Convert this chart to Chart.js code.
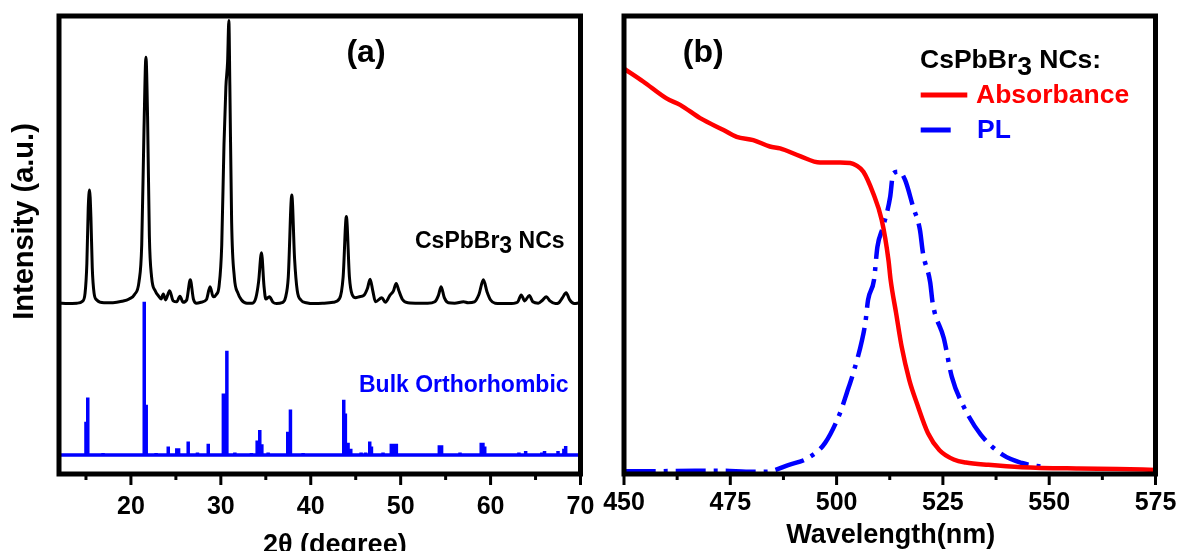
<!DOCTYPE html>
<html>
<head>
<meta charset="utf-8">
<title>CsPbBr3 NCs: XRD and optical spectra</title>
<script src="https://cdn.jsdelivr.net/npm/chart.js@4.4.1/dist/chart.umd.min.js"></script>
<style>
  html, body { margin: 0; padding: 0; background: #fff; overflow: hidden; }
  #wrap { position: relative; width: 1179px; height: 551px; overflow: hidden; background: #fff; }
  canvas { position: absolute; top: 0; }
  #xrd { left: 0; }
  #optical { left: 600px; }
</style>
</head>
<body>
<div id="wrap">
  <canvas id="xrd" width="600" height="570"></canvas>
  <canvas id="optical" width="579" height="570"></canvas>
</div>
<script>
// ---- XRD of the nanocrystals (2theta in degrees, normalised intensity) ----
const ncAngles = [
  12.0, 13.0, 14.0, 14.6, 14.9, 15.1, 15.25, 15.4, 15.55, 15.7, 15.9, 16.2, 17.0, 18.0, 19.0, 19.8,
  20.4, 20.9, 21.2, 21.45, 21.67, 21.85, 22.05, 22.3, 22.7, 23.1, 23.35, 23.6, 23.85, 24.3, 24.7,
  25.1, 25.45, 25.8, 26.2, 26.6, 26.95, 27.3, 27.8, 28.4, 28.8, 29.15, 29.5, 29.8, 30.1, 30.35,
  30.56, 30.75, 30.89, 31.0, 31.2, 31.5, 31.9, 32.3, 32.9, 33.5, 33.9, 34.2, 34.52, 34.8, 35.0,
  35.4, 35.8, 36.2, 36.8, 37.2, 37.5, 37.89, 38.2, 38.5, 38.9, 39.5, 40.5, 41.5, 42.5, 43.2, 43.6,
  43.96, 44.3, 44.6, 45.0, 45.4, 45.9, 46.3, 46.6, 46.9, 47.2, 47.9, 48.3, 48.8, 49.2, 49.5, 49.8,
  50.2, 50.8, 52.0, 53.0, 53.8, 54.2, 54.5, 54.85, 55.3, 56.0, 57.0, 57.5, 58.2, 58.7, 59.2, 59.6,
  60.0, 60.5, 62.0, 63.0, 63.4, 63.8, 64.3, 64.7, 65.3, 65.8, 66.2, 66.6, 67.2, 67.6, 68.0, 68.4,
  68.8, 69.3, 70.0
];
const ncIntensity = [
  0.373, 0.372, 0.373, 0.377, 0.395, 0.46, 0.58, 0.620, 0.56, 0.45, 0.395, 0.380, 0.374, 0.374, 0.377, 0.382,
  0.392, 0.42, 0.50, 0.75, 0.910, 0.78, 0.52, 0.43, 0.40, 0.388, 0.382, 0.393, 0.380, 0.400, 0.378,
  0.376, 0.388, 0.375, 0.380, 0.424, 0.382, 0.373, 0.375, 0.381, 0.409, 0.387, 0.392, 0.41, 0.50, 0.72,
  0.845, 0.90, 0.990, 0.85, 0.55, 0.43, 0.395, 0.380, 0.373, 0.373, 0.385, 0.42, 0.483, 0.41, 0.382,
  0.387, 0.375, 0.372, 0.374, 0.386, 0.43, 0.609, 0.47, 0.40, 0.380, 0.374, 0.372, 0.373, 0.375, 0.383, 0.43,
  0.562, 0.43, 0.392, 0.385, 0.387, 0.390, 0.405, 0.425, 0.400, 0.376, 0.385, 0.375, 0.390, 0.400, 0.416, 0.400,
  0.381, 0.374, 0.373, 0.373, 0.376, 0.390, 0.409, 0.385, 0.374, 0.373, 0.376, 0.374, 0.376, 0.392, 0.424, 0.398,
  0.380, 0.373, 0.372, 0.375, 0.391, 0.378, 0.390, 0.376, 0.373, 0.380, 0.387, 0.378, 0.372, 0.374, 0.385, 0.396,
  0.380, 0.372, 0.374
];

// ---- Reference pattern, bulk orthorhombic CsPbBr3 (stick positions and heights) ----
const bulkBaseline = 0.0415;
const bulkAngles = [
  15.0, 15.2, 16.9, 21.48, 21.7, 22.8, 24.15, 25.1, 25.3, 26.37, 27.4, 28.6, 30.28, 30.67, 31.56,
  33.4, 34.04, 34.33, 34.56, 35.26, 37.44, 37.74, 39.15, 39.6, 41.6, 42.5, 43.67, 43.85, 44.15, 44.45,
  45.6, 46.1, 46.56, 46.75, 48.04, 48.96, 49.25, 49.52, 51.5, 52.8, 54.3, 54.55, 55.6, 56.6, 57.4,
  58.96, 59.15, 59.35, 63.15, 63.9, 65.7, 66.0, 67.5, 68.15, 68.35
];
const bulkIntensity = [
  0.114, 0.167, 0.046, 0.376, 0.151, 0.046, 0.060, 0.056, 0.056, 0.071, 0.047, 0.066, 0.176, 0.269, 0.047,
  0.046, 0.073, 0.096, 0.065, 0.047, 0.092, 0.141, 0.046, 0.045, 0.044, 0.045, 0.162, 0.132, 0.068, 0.055,
  0.047, 0.047, 0.071, 0.060, 0.047, 0.066, 0.066, 0.066, 0.044, 0.044, 0.063, 0.063, 0.045, 0.047, 0.045,
  0.068, 0.068, 0.060, 0.047, 0.050, 0.047, 0.050, 0.050, 0.055, 0.061
];

// ---- Optical spectra (wavelength in nm, normalised) ----
const absWavelength = [
  450, 454.5, 460, 463.2, 467.9, 473.4, 476.5, 480.4, 484.3, 486.7, 491.4, 496.1, 500.8, 503.2, 504.6,
  506.3, 508.6, 510.6, 512.2, 512.7, 514.0, 515.3, 517.1, 518.9, 521.5, 524.2, 527.7, 530.4, 535.7,
  543.6, 556.9, 566, 575
];
const absValues = [
  0.885, 0.857, 0.820, 0.806, 0.777, 0.751, 0.736, 0.729, 0.715, 0.711, 0.694, 0.680, 0.680, 0.679, 0.674,
  0.660, 0.613, 0.555, 0.467, 0.424, 0.351, 0.278, 0.205, 0.154, 0.089, 0.052, 0.031, 0.025, 0.020,
  0.015, 0.012, 0.011, 0.009
];
const plWavelength = [
  450.4, 456.1, 466.7, 473.8, 478.7, 483.5, 488.8, 493.3, 497.3, 500.8, 502.4, 503.9, 506.0, 506.8,
  507.4, 508.8, 509.6, 510.9, 512.6, 513.3, 514.7, 516.1, 518.0, 519.6, 520.3, 522.0, 522.6, 525.2,
  527.1, 529.9, 533.9, 539.2, 543.6, 548.9
];
const plValues = [
  0.006, 0.006, 0.007, 0.007, 0.005, 0.005, 0.020, 0.035, 0.068, 0.133, 0.177, 0.220, 0.293, 0.333,
  0.380, 0.424, 0.496, 0.539, 0.605, 0.656, 0.660, 0.642, 0.583, 0.533, 0.483, 0.419, 0.373, 0.297,
  0.212, 0.147, 0.086, 0.041, 0.024, 0.015
];

// ---- Axis ticks ----
const xrdMajorTicks = [20, 30, 40, 50, 60, 70];
const xrdMinorTicks = [15, 25, 35, 45, 55, 65];
const wlMajorTicks = [450, 475, 500, 525, 550, 575];
const wlMinorTicks = [462.5, 487.5, 512.5, 537.5, 562.5];

const FONT = "'Liberation Sans', Arial, Helvetica, sans-serif";
Chart.defaults.font.family = FONT;
Chart.defaults.font.weight = 'bold';
Chart.defaults.color = '#000';

const toPoints = (xs, ys) => xs.map((x, i) => ({ x: x, y: ys[i] }));

// each stick goes baseline -> top -> baseline so one line draws the whole pattern
function stickPoints(xs, ys, base) {
  const pts = [{ x: 12, y: base }];
  xs.forEach((x, i) => {
    pts.push({ x: x, y: base }, { x: x, y: ys[i] }, { x: x, y: base });
  });
  pts.push({ x: 70, y: base });
  return pts;
}

function drawFrame(chart) {
  const { ctx, chartArea: a } = chart;
  ctx.save();
  ctx.strokeStyle = '#000';
  ctx.lineWidth = 5;
  ctx.strokeRect(a.left, a.top, a.right - a.left, a.bottom - a.top);
  ctx.restore();
}

function drawTickMarks(chart, major, minor) {
  const { ctx, chartArea: a, scales: { x } } = chart;
  ctx.save();
  ctx.strokeStyle = '#000';
  ctx.lineWidth = 3;
  const mark = (v, len) => {
    const px = x.getPixelForValue(v);
    ctx.beginPath();
    ctx.moveTo(px, a.bottom);
    ctx.lineTo(px, a.bottom + len);
    ctx.stroke();
  };
  major.forEach(v => mark(v, 11));
  minor.forEach(v => mark(v, 6));
  ctx.restore();
}

function label(ctx, str, x, y, size, color, align) {
  ctx.font = 'bold ' + size + 'px ' + FONT;
  ctx.fillStyle = color || '#000';
  ctx.textAlign = align || 'left';
  ctx.textBaseline = 'alphabetic';
  ctx.fillText(str, x, y);
}

// "CsPbBr3 NCs" with the 3 dropped below the baseline
function formula(ctx, x, y, size, tail, drop) {
  ctx.font = 'bold ' + size + 'px ' + FONT;
  ctx.fillStyle = '#000';
  ctx.textAlign = 'left';
  ctx.textBaseline = 'alphabetic';
  ctx.fillText('CsPbBr', x, y);
  let cx = x + ctx.measureText('CsPbBr').width;
  ctx.fillText('3', cx, y + drop);
  cx += ctx.measureText('3').width;
  ctx.fillText(tail, cx, y);
}

const xrdDecor = {
  id: 'xrdDecor',
  afterDraw(chart) {
    const ctx = chart.ctx;
    drawFrame(chart);
    drawTickMarks(chart, xrdMajorTicks, xrdMinorTicks);
    ctx.save();
    label(ctx, '(a)', 366, 61.5, 32, '#000', 'center');
    formula(ctx, 415, 248, 23, ' NCs', 5);
    label(ctx, 'Bulk Orthorhombic', 359, 391.5, 23, '#0000ff');
    label(ctx, '2\u03b8 (degree)', 263, 553, 27);
    // y title
    ctx.translate(25, 221.5);
    ctx.rotate(-Math.PI / 2);
    ctx.font = 'bold 29px ' + FONT;
    ctx.fillStyle = '#000';
    ctx.textAlign = 'center';
    ctx.textBaseline = 'middle';
    ctx.fillText('Intensity (a.u.)', 0, 0);
    ctx.restore();
  }
};

const opticalDecor = {
  id: 'opticalDecor',
  afterDraw(chart) {
    const ctx = chart.ctx;
    drawFrame(chart);
    drawTickMarks(chart, wlMajorTicks, wlMinorTicks);
    ctx.save();
    label(ctx, '(b)', 103.3, 61.5, 32, '#000', 'center');
    // legend
    formula(ctx, 320, 68, 26.5, ' NCs:', 7);
    ctx.lineWidth = 5;
    ctx.strokeStyle = '#ff0000';
    ctx.beginPath(); ctx.moveTo(320.7, 95); ctx.lineTo(367.3, 95); ctx.stroke();
    label(ctx, 'Absorbance', 376, 103, 26.5, '#ff0000');
    ctx.strokeStyle = '#0000ff';
    ctx.beginPath(); ctx.moveTo(320.7, 130); ctx.lineTo(350.7, 130); ctx.stroke();
    label(ctx, 'PL', 377, 138, 26.5, '#0000ff');
    label(ctx, 'Wavelength(nm)', 290.7, 543, 27, '#000', 'center');
    ctx.restore();
  }
};

// labels sit below the frame by tickLength; the tick marks themselves are drawn by the plugin
function xAxis(min, max, step, drop) {
  return {
    type: 'linear',
    min: min,
    max: max,
    afterFit: s => {
      s.height = 96;
      s.paddingLeft = 0;
      s.paddingRight = 0;
    },
    grid: { display: false, drawTicks: true, tickLength: drop },
    border: { display: false },
    ticks: {
      stepSize: step,
      includeBounds: false,
      autoSkip: false,
      maxRotation: 0,
      padding: 0,
      color: '#000',
      font: { size: 25, weight: 'bold' }
    }
  };
}

const baseOptions = (padding, x) => ({
  responsive: false,
  animation: false,
  events: [],
  layout: { padding: padding },
  plugins: { legend: { display: false }, tooltip: { enabled: false } },
  scales: { x: x, y: { display: false, min: 0, max: 1 } }
});

new Chart(document.getElementById('xrd'), {
  type: 'line',
  data: {
    datasets: [
      {
        label: 'CsPbBr3 NCs',
        data: toPoints(ncAngles, ncIntensity),
        borderColor: '#000',
        borderWidth: 3,
        pointRadius: 0,
        cubicInterpolationMode: 'monotone',
        fill: false
      },
      {
        label: 'Bulk Orthorhombic',
        data: stickPoints(bulkAngles, bulkIntensity, bulkBaseline),
        borderColor: '#0000ff',
        borderWidth: 3.5,
        pointRadius: 0,
        tension: 0,
        borderJoinStyle: 'bevel',
        fill: false
      }
    ]
  },
  options: baseOptions({ left: 59, top: 16, right: 19.5, bottom: 0 }, xAxis(12, 70, 10, 18)),
  plugins: [xrdDecor]
});

new Chart(document.getElementById('optical'), {
  type: 'line',
  data: {
    datasets: [
      {
        label: 'Absorbance',
        data: toPoints(absWavelength, absValues),
        borderColor: '#ff0000',
        borderWidth: 4.5,
        pointRadius: 0,
        cubicInterpolationMode: 'monotone',
        fill: false
      },
      {
        label: 'PL',
        data: toPoints(plWavelength, plValues),
        borderColor: '#0000ff',
        borderWidth: 4.5,
        borderDash: [30, 8, 4, 8],
        pointRadius: 0,
        cubicInterpolationMode: 'monotone',
        fill: false
      }
    ]
  },
  options: baseOptions({ left: 24, top: 16, right: 23.5, bottom: 0 }, xAxis(450, 575, 25, 14)),
  plugins: [opticalDecor]
});
</script>
</body>
</html>
